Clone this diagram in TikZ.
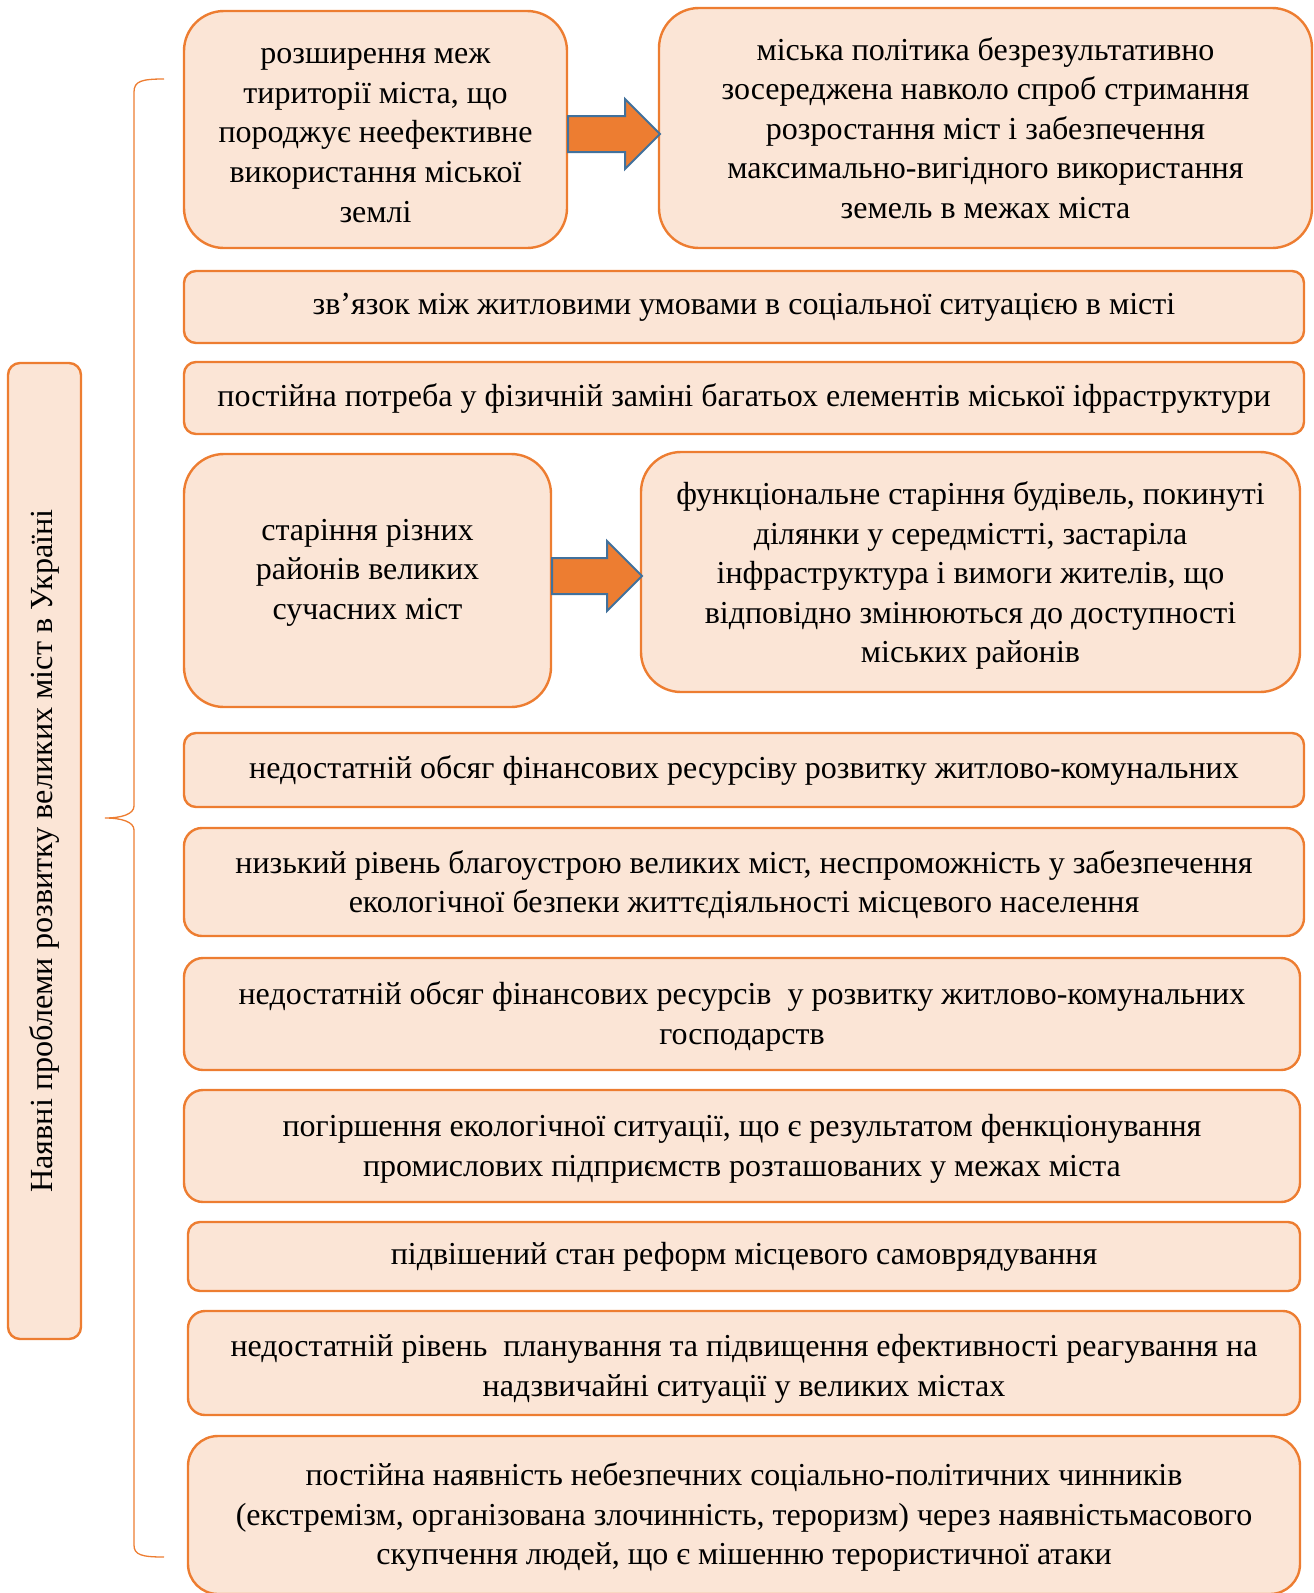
\documentclass[tikz,border=0pt]{standalone}
\usepackage{fontspec}
\setmainfont{Liberation Serif}
\newfontfamily\titlefont{Liberation Serif}
\usetikzlibrary{shapes.arrows, positioning, calc}
\definecolor{peachfill}{HTML}{FBE5D6}
\definecolor{accentorange}{HTML}{ED7D31}
\definecolor{arrowblue}{HTML}{41719C}

\begin{document}
\begin{tikzpicture}[x=1pt, y=-1pt, font=\fontsize{32}{39.6}\selectfont,
    problem/.style={rectangle, rounded corners=12pt, draw=accentorange, fill=peachfill,
      line width=2.4pt, align=center, inner sep=4pt, outer sep=0pt, minimum width=1120pt},
    bigbox/.style={problem, rounded corners=40pt},
    bigarrow/.style={single arrow, draw=arrowblue, fill=accentorange, line width=2pt,
      single arrow head extend=17pt, inner xsep=0pt, inner ysep=17pt,
      text height=0pt, text depth=0pt, anchor=west},
    bracket/.style={draw=accentorange, line width=1.3pt}]

  \useasboundingbox (0,0) rectangle (1314,1593);

  % title on the left
  \node (title) [problem, rotate=90, minimum width=976pt, minimum height=73pt,
    font=\titlefont\fontsize{32.2}{38}\selectfont] at (44.5,851) {Наявні проблеми розвитку великих міст в Україні};

  \coordinate (brtop) at (164,79);
  \coordinate (brtip) at (105,818);
  \coordinate (brbot) at (164,1557);
  \draw [bracket] (brtop) .. controls (142,79) and (134,81) .. (134,92) -- (134,806)
    .. controls (134,814) and (122,818) .. (brtip)
    .. controls (122,818) and (134,822) .. (134,830) -- (134,1545)
    .. controls (134,1555) and (142,1557) .. (brbot);

  % upper pair
  \node (b1) [bigbox, minimum width=383pt, minimum height=237pt] at (375.5,129.5)
    {\rule{0pt}{27pt}розширення меж\\тириторії міста, що\\породжує неефективне\\використання міської\\землі};
  \node (b2) [bigbox, minimum width=653pt, minimum height=240pt] at (985.5,128)
    {міська політика безрезультативно\\зосереджена навколо спроб стримання\\розростання міст і забезпечення\\максимально-вигідного використання\\земель в межах міста};
  \node (ar1) [bigarrow, minimum height=92pt, right=0pt of b1, yshift=-4.5pt] {};

  \node (b3) [problem, minimum height=72pt] at (744,307)
    {зв’язок між житловими умовами в соціальної ситуацією в місті};
  \node (b4) [problem, minimum height=72pt, below=19pt of b3]
    {постійна потреба у фізичній заміні багатьох елементів міської іфраструктури};

  % lower pair
  \node (b5) [bigbox, minimum width=367pt, minimum height=253pt] at (367.5,580.5)
    {старіння різних\\районів великих\\сучасних міст\rule[-23pt]{0pt}{0pt}};
  \node (b6) [bigbox, minimum width=659pt, minimum height=240pt] at (970.5,572)
    {\rule{0pt}{30pt}функціональне старіння будівель, покинуті\\ділянки у середмістті, застаріла\\інфраструктура і вимоги жителів, що\\відповідно змінюються до доступності\\міських районів};
  \node (ar2) [bigarrow, minimum height=90pt, right=0pt of b5, yshift=4.5pt] {};

  \node (b7) [problem, minimum height=74pt] at (744,770)
    {недостатній обсяг фінансових ресурсіву розвитку житлово-комунальних};
  \node (b8) [problem, rounded corners=18pt, minimum height=108pt, below=21pt of b7]
    {\rule{0pt}{28pt}низький рівень благоустрою великих міст, неспроможність у забезпечення\\екологічної безпеки життєдіяльності місцевого населення};
  \node (b9) [problem, rounded corners=19pt, minimum width=1116pt, minimum height=112pt, below=22pt of b8, xshift=-2pt]
    {\rule{0pt}{28pt}недостатній обсяг фінансових ресурсів~ у розвитку житлово-комунальних\\господарств};
  \node (b10) [problem, rounded corners=19pt, minimum width=1116pt, minimum height=112pt, below=20pt of b9]
    {\rule{0pt}{28pt}погіршення екологічної ситуації, що є результатом фенкціонування\\промислових підприємств розташованих у межах міста};
  \node (b11) [problem, minimum width=1112pt, minimum height=69pt, below=20pt of b10, xshift=2pt]
    {підвішений стан реформ місцевого самоврядування};
  \node (b12) [problem, rounded corners=17pt, minimum width=1112pt, minimum height=104pt, below=20pt of b11]
    {\rule{0pt}{34pt}недостатній рівень~ планування та підвищення ефективності реагування на\\надзвичайні ситуації у великих містах};
  \node (b13) [problem, rounded corners=30pt, minimum width=1112pt, minimum height=158pt, below=21pt of b12]
    {\rule{0pt}{27pt}постійна наявність небезпечних соціально-політичних чинників\\(екстремізм, організована злочинність, тероризм) через наявністьмасового\\скупчення людей, що є мішенню терористичної атаки};
\end{tikzpicture}
\end{document}
